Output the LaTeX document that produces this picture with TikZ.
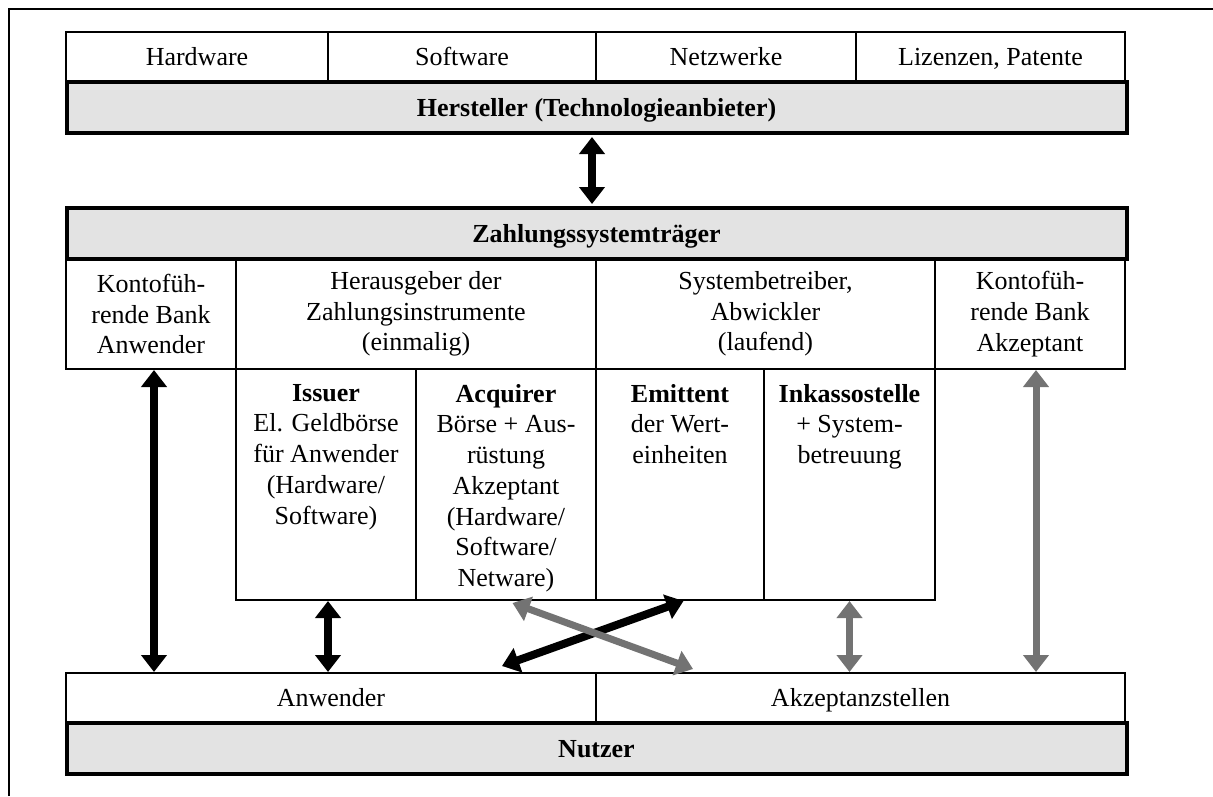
\documentclass[tikz,border=0pt]{standalone}
\usepackage{fontspec}
\setmainfont{Liberation Serif}
\usetikzlibrary{arrows.meta,positioning}

\begin{document}
\begin{tikzpicture}[x=1pt, y=-1pt,
	font=\fontsize{26}{30.7}\selectfont,
	cell/.style={draw, line width=2pt, anchor=north west, inner sep=0pt, align=center},
	oneline/.style={text height=17pt, text depth=0pt},
	bar/.style={cell, oneline, line width=4pt, fill=black!11, font=\fontsize{26}{30.7}\selectfont\bfseries, minimum width=1060pt, minimum height=51pt},
	boxtext/.style={inner sep=0pt, align=center},
	blk/.style={line width=8pt, {Triangle[length=17pt, width=25pt]}-{Triangle[length=17pt, width=25pt]}},
	gry/.style={blk, draw=black!55, line width=7pt}]
	\useasboundingbox (0,0) rectangle (1213,796);

	\draw [line width=2.5pt] (9,796) -- (9,9) -- (1213,9);

	\node [cell, oneline, minimum width=262pt, minimum height=49pt] (hw) at (65,31) {Hardware};
	\node [cell, oneline, minimum width=268pt, minimum height=49pt] (sw) at (327,31) {Software};
	\node [cell, oneline, minimum width=260pt, minimum height=49pt] (nw) at (595,31) {Netzwerke};
	\node [cell, oneline, minimum width=269pt, minimum height=49pt] (lz) at (855,31) {Lizenzen, Patente};
	\node [bar] (hersteller) at (64.5,80) {Hersteller (Technologieanbieter)};

	\node [bar] (traeger) at (64.5,206) {Zahlungssystemträger};
	\node [cell, minimum width=170pt, minimum height=110pt] (kbanw) at (65,258) {Kontofüh-\\rende Bank\\Anwender};
	\node [cell, minimum width=360pt, minimum height=110pt] (heraus) at (235,258) {Herausgeber der\\Zahlungsinstrumente\\(einmalig)};
	\node [cell, minimum width=339pt, minimum height=110pt] (sysb) at (595,258) {Systembetreiber,\\Abwickler\\(laufend)};
	\node [cell, minimum width=190pt, minimum height=110pt] (kbakz) at (934,258) {Kontofüh-\\rende Bank\\Akzeptant};

	\node [cell, minimum width=180pt, minimum height=231pt] (issuer) at (235,368) {};
	\node [cell, minimum width=180pt, minimum height=231pt] (acq) at (415,368) {};
	\node [cell, minimum width=168pt, minimum height=231pt] (emit) at (595,368) {};
	\node [cell, minimum width=171pt, minimum height=231pt] (inkasso) at (763,368) {};
	\node [boxtext, below=16pt of issuer.north] (issuertxt) {\textbf{Issuer}\\El. Geldbörse\\für Anwender\\(Hardware/\\Software)};
	\node [boxtext, below=16pt of acq.north] (acqtxt) {\textbf{Acquirer}\\Börse + Aus-\\rüstung\\Akzeptant\\(Hardware/\\Software/\\Netware)};
	\node [boxtext, below=16pt of emit.north] (emittxt) {\textbf{Emittent}\\der Wert-\\einheiten};
	\node [boxtext, below=16pt of inkasso.north] (inkassotxt) {\textbf{Inkassostelle}\\+ System-\\betreuung};

	\node [cell, oneline, minimum width=530pt, minimum height=49pt] (anw) at (65,672) {Anwender};
	\node [cell, oneline, minimum width=529pt, minimum height=49pt] (akz) at (595,672) {Akzeptanzstellen};
	\node [bar] (nutzer) at (64.5,721) {Nutzer};

	\draw [blk, shorten <=2pt, shorten >=2pt] ([xshift=-4.5pt]hersteller.south) -- ([xshift=-4.5pt]traeger.north);
	\draw [blk] ([xshift=3pt]kbanw.south) -- ([xshift=3pt]kbanw.south |- anw.north);
	\draw [blk] ([xshift=2pt]issuer.south) -- ([xshift=2pt]issuer.south |- anw.north);
	\draw [blk] ([xshift=-95pt, yshift=6pt]anw.north east) -- ([xshift=3.5pt]emit.south);
	\draw [gry] ([xshift=6.5pt, yshift=-2pt]acq.south) -- ([xshift=98pt, yshift=3pt]akz.north west);
	\draw [gry] (inkasso.south) -- (inkasso.south |- akz.north);
	\draw [gry] ([xshift=6pt]kbakz.south) -- ([xshift=6pt]kbakz.south |- akz.north);
\end{tikzpicture}
\end{document}
